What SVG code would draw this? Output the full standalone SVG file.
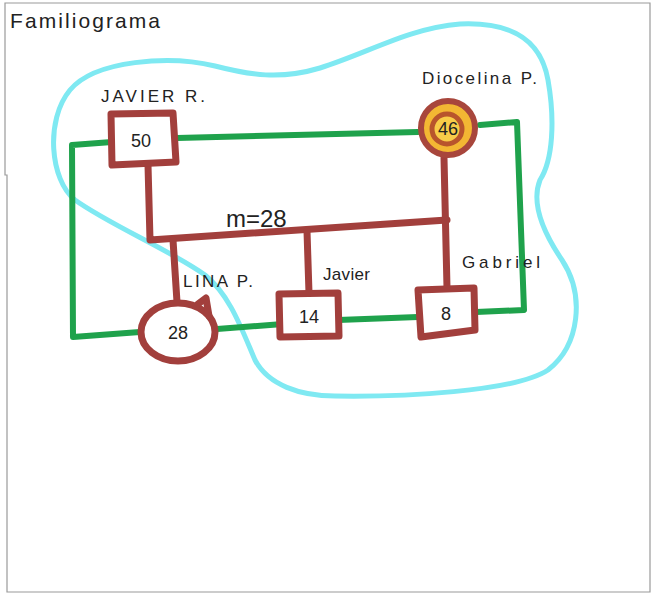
<svg xmlns="http://www.w3.org/2000/svg" width="657" height="595" viewBox="0 0 657 595">
<style>
.txt{font-family:"Liberation Sans","DejaVu Sans",sans-serif;fill:#222;}
.lbl{font-size:17px;}
.num{font-size:18px;text-anchor:middle;}
.brown{fill:none;stroke:#a23f3c;stroke-width:7;stroke-linejoin:round;stroke-linecap:round;}
.boxn{fill:#fff;stroke:#a23f3c;stroke-width:7;stroke-linejoin:round;}
.green{fill:none;stroke:#1fa24c;stroke-width:6;stroke-linejoin:round;stroke-linecap:round;}
</style>
<rect x="0" y="0" width="657" height="595" fill="#fff"/>
<path d="M5,3 L650,3 L650,592 L7,592 L7,175 L5,175 Z" fill="none" stroke="#9a9a9a" stroke-width="1.2"/>
<text class="txt" x="10" y="28" font-size="21" textLength="150" lengthAdjust="spacing">Familiograma</text>

<g id="boundary">
<path d="M335,396 C300,396 268,385 255,360 C242,330 230,295 205,275 C170,250 110,225 75,200 C50,180 45,120 70,90 C95,60 170,55 215,66 C250,75 280,80 320,68 C370,52 410,28 460,24 C505,22 540,35 548,80 C555,120 553,160 540,180 C530,205 545,235 562,260 C585,295 580,345 548,370 C515,392 400,397 335,396 Z" fill="none" stroke="#7fe9f2" stroke-width="5"/>
</g>

<g id="connectors">
<path class="green" d="M177,138 L418,132"/>
<path class="green" d="M480,125 L517,122 L524,310 L476,312"/>
<path class="green" d="M112,142 L72,145 L73,337 L140,332"/>
<path class="green" d="M217,329 L283,324"/>
<path class="green" d="M338,320 L418,317"/>
<path class="brown" d="M148,165 L150,240 L447,220"/>
<path class="brown" d="M444,158 L447,288"/>
<path class="brown" d="M173,240 L177,302"/>
<path class="brown" d="M307,231 L309,293"/>
<text class="txt" x="226" y="227" font-size="24">m=28</text>
</g>

<g id="javier-r">
<path class="boxn" d="M111,114 L173,113 L176,162 L112,165 Z"/>
<text class="txt num" x="141" y="147">50</text>
<text class="txt lbl" x="101" y="102" textLength="104" lengthAdjust="spacing">JAVIER R.</text>
</g>

<g id="diocelina-p">
<circle cx="448" cy="128" r="27" fill="#f3b733" stroke="#a8463c" stroke-width="6"/>
<circle cx="447" cy="129" r="15" fill="#f8cc48" stroke="#b8552c" stroke-width="5"/>
<text class="txt num" x="448" y="135">46</text>
<text class="txt lbl" x="422" y="84" textLength="115" lengthAdjust="spacing">Diocelina P.</text>
</g>

<g id="lina-p">
<ellipse cx="178" cy="332" rx="37" ry="29" fill="#fff" stroke="#a23f3c" stroke-width="7"/>
<path class="brown" d="M198,304 L206,298 L209,316" stroke-width="4"/>
<text class="txt num" x="178" y="339">28</text>
<text class="txt lbl" x="183" y="287" textLength="70" lengthAdjust="spacing">LINA P.</text>
</g>

<g id="javier">
<path class="boxn" d="M279,294 L338,293 L339,336 L280,337 Z"/>
<text class="txt num" x="309" y="323">14</text>
<text class="txt lbl" x="323" y="280" font-size="15" textLength="47" lengthAdjust="spacing">Javier</text>
</g>

<g id="gabriel">
<path class="boxn" d="M418,290 L474,288 L475,330 L421,337 Z"/>
<text class="txt num" x="446" y="320">8</text>
<text class="txt lbl" x="462" y="268" font-size="18" textLength="78" lengthAdjust="spacing">Gabriel</text>
</g>
</svg>
